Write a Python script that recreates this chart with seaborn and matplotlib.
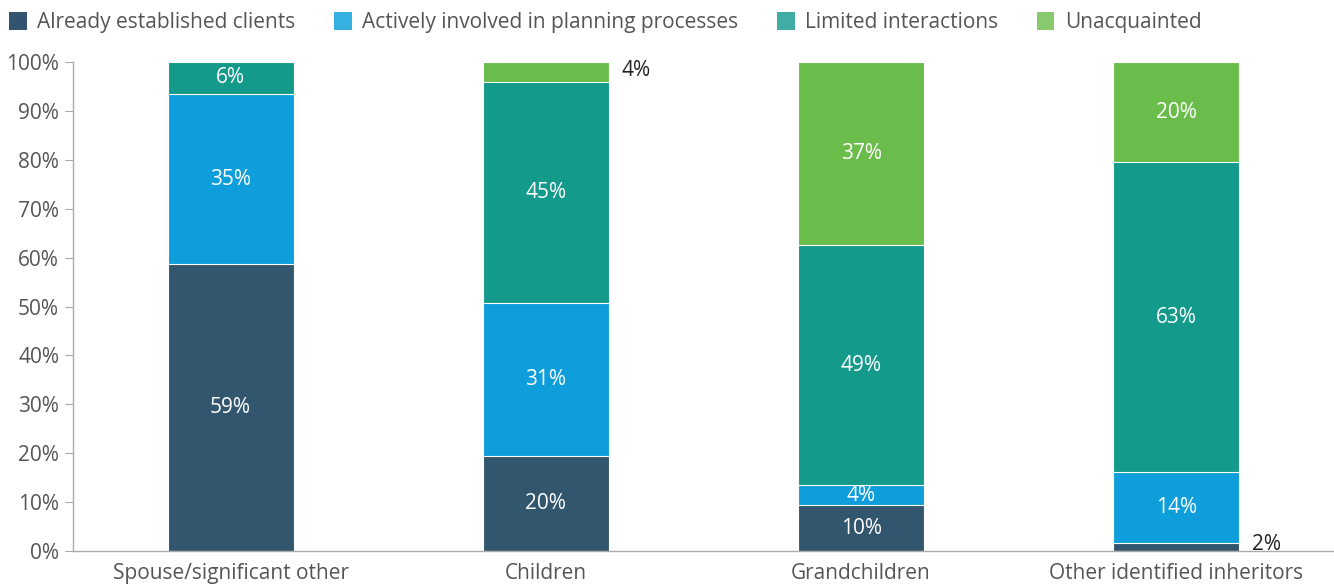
import matplotlib
matplotlib.use("Agg")
import matplotlib.pyplot as plt
import seaborn as sns
import numpy as np
import pandas as pd
from matplotlib.patches import Patch

categories = ["Spouse/significant other", "Children", "Grandchildren", "Other identified inheritors"]
series = ["Already established clients", "Actively involved in planning processes",
          "Limited interactions", "Unacquainted"]
established = [58.6, 19.4, 9.4, 1.7]
involved = [34.9, 31.3, 4.0, 14.5]
limited = [6.5, 45.2, 49.2, 63.3]
unacquainted = [0.0, 4.1, 37.4, 20.5]
label_established = ["59%", "20%", "10%", "2%"]
label_involved = ["35%", "31%", "4%", "14%"]
label_limited = ["6%", "45%", "49%", "63%"]
label_unacquainted = ["", "4%", "37%", "20%"]
yticks = [0, 10, 20, 30, 40, 50, 60, 70, 80, 90, 100]

bar_colors = ["#33566f", "#0e9edb", "#139a8b", "#6bbd4b"]
legend_colors = ["#335470", "#35b0e0", "#40ada5", "#88c86e"]

sns.set_style("white")
plt.rcParams["font.family"] = ["Open Sans", "DejaVu Sans"]

FS = 15

fig = plt.figure(figsize=(13.34, 5.86), dpi=100)
ax = fig.add_axes([0.0547, 0.0597, 0.9453, 0.8345])

vals = [established, involved, limited, unacquainted]
labels = [label_established, label_involved, label_limited, label_unacquainted]
cum = np.cumsum(np.array(vals), axis=0)
# labels drawn outside the bar (small segments)
outside = {(3, 1), (0, 3)}

# draw cumulative bars back to front
for i in range(3, -1, -1):
    df = pd.DataFrame({"cat": categories, "val": cum[i]})
    sns.barplot(data=df, x="cat", y="val", color=bar_colors[i], width=0.4,
                edgecolor="white", linewidth=0.8, ax=ax, saturation=1)

for i in range(4):
    for j in range(4):
        txt = labels[i][j]
        if not txt:
            continue
        top = cum[i][j]
        mid = top - vals[i][j] / 2
        if (i, j) in outside:
            ax.text(j + 0.24, mid + 0.4, txt, ha="left", va="center",
                    color="#222222", fontsize=FS)
        else:
            ax.text(j, mid, txt, ha="center", va="center", color="white", fontsize=FS)

ax.set_xlim(-0.5, 3.5)
ax.set_ylim(0, 100)
ax.set_yticks(yticks)
ax.set_yticklabels([f"{t}%" for t in yticks])
ax.set_xlabel("")
ax.set_ylabel("")
for s in ["top", "right"]:
    ax.spines[s].set_visible(False)
for s in ["left", "bottom"]:
    ax.spines[s].set_color("#aaaaaa")
    ax.spines[s].set_linewidth(1)
ax.tick_params(axis="y", which="both", left=True, length=6, color="#aaaaaa",
               labelsize=FS, labelcolor="#555555", pad=4)
ax.tick_params(axis="x", which="both", bottom=False, labelsize=FS,
               labelcolor="#555555", pad=5)

handles = [Patch(facecolor=c, edgecolor="none", label=l) for c, l in zip(legend_colors, series)]
fig.legend(handles=handles, loc="upper left", bbox_to_anchor=(-0.004, 1.005), ncol=4,
           frameon=False, fontsize=FS, handlelength=0.85, handleheight=1.0,
           handletextpad=0.5, columnspacing=1.85, labelcolor="#555555",
           borderaxespad=0.3)

fig.savefig("out.png", dpi=100)
